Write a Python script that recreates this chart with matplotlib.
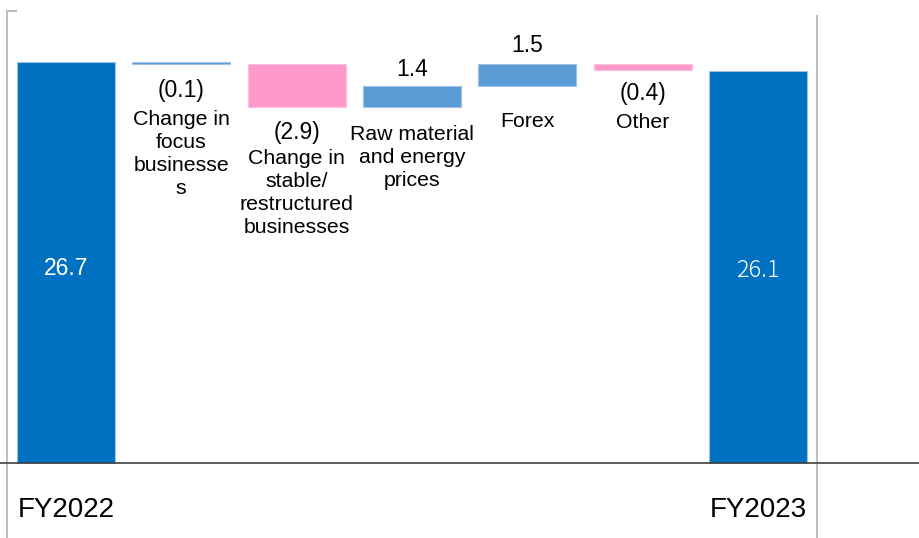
import matplotlib
matplotlib.use("Agg")
import matplotlib.pyplot as plt
import numpy as np

plt.rcParams['font.family'] = ['Liberation Sans', 'DejaVu Sans']

# 売上収益の増減（十億円）
start_label, end_label = 'FY2022', 'FY2023'
start_value = 26.7
end_value = 26.1
step_names = [
    'Change in\nfocus\nbusinesse\ns',
    'Change in\nstable/\nrestructured\nbusinesses',
    'Raw material\nand energy\nprices',
    'Forex',
    'Other',
]
step_values = [-0.1, -2.9, 1.4, 1.5, -0.4]
step_colors = ['#5B9BD5', '#FF99CC', '#5B9BD5', '#5B9BD5', '#FF99CC']
step_edges = ['#9DC3E6', '#FFC0DD', '#9DC3E6', '#9DC3E6', '#FFC0DD']

# ラベル位置の微調整（ピクセル）
value_offsets = [15.0, 14.0, 10.3, 11.5, 12.5]
name_offsets = [46.0, 41.5, 17.5, 25.5, 43.0]

total_color = '#0070C0'
total_edge = '#9DC3E6'

fig = plt.figure(figsize=(9.2, 5.38), dpi=100)
ax = fig.add_axes([7 / 920, 0, 810 / 920, 527 / 538])
ax.set_xlim(-0.51, 6.51)
ax.set_ylim(-5.0, 30.1)

# 各ステップの上下端を累積で求める
levels = np.concatenate([[start_value], start_value + np.cumsum(step_values)])
lows = np.minimum(levels[:-1], levels[1:])
highs = np.maximum(levels[:-1], levels[1:])

x_steps = np.arange(1, len(step_values) + 1)
x_end = len(step_values) + 1
width = 0.85

ax.bar(0, start_value, width=width, color=total_color, edgecolor=total_edge, linewidth=0.8)
ax.bar(x_end, end_value, width=width, color=total_color, edgecolor=total_edge, linewidth=0.8)
ax.bar(x_steps, highs - lows, bottom=lows, width=width,
       color=step_colors, edgecolor=step_edges, linewidth=0.8)

# 合計値ラベル
ax.annotate(f'{start_value:.1f}', (0, start_value / 2), xytext=(0, -6),
            textcoords='offset pixels', color='white', fontsize=16.5,
            ha='center', va='center')
ax.annotate(f'{end_value:.1f}', (x_end, end_value / 2), xytext=(0, -4),
            textcoords='offset pixels', color='white', fontsize=17,
            ha='center', va='center', family=['Noto Sans CJK JP', 'DejaVu Sans'],
            fontweight='light')

# 増減ラベルと項目名
for x, v, lo, hi, name, vo, no in zip(x_steps, step_values, lows, highs,
                                      step_names, value_offsets, name_offsets):
    if v < 0:
        ax.annotate(f'({abs(v):.1f})', (x, lo), xytext=(0, -vo),
                    textcoords='offset pixels', ha='center', va='top', fontsize=16.5)
    else:
        ax.annotate(f'{v:.1f}', (x, hi), xytext=(0, vo),
                    textcoords='offset pixels', ha='center', va='baseline', fontsize=16.5)
    ax.annotate(name, (x, lo), xytext=(0, -no), textcoords='offset pixels',
                ha='center', va='top', fontsize=15.3, linespacing=1.28)

for x, lab in [(0, start_label), (x_end, end_label)]:
    ax.annotate(lab, (x, 0), xytext=(0, -34), textcoords='offset pixels',
                ha='center', va='top', fontsize=20)

# ゼロ線
ax.axhline(0, xmin=-7 / 810, xmax=913 / 810, color='#404040', linewidth=1.2,
           clip_on=False, zorder=3)

# 枠線
for side in ['left', 'right', 'top']:
    ax.spines[side].set_color('#BFBFBF')
    ax.spines[side].set_linewidth(1.5)
ax.spines['bottom'].set_visible(False)
ax.spines['right'].set_bounds(-5.0, 29.8)
ax.spines['top'].set_bounds(-0.51, -0.43)
ax.set_xticks([])
ax.set_yticks([])

fig.savefig('out.png', dpi=100)
